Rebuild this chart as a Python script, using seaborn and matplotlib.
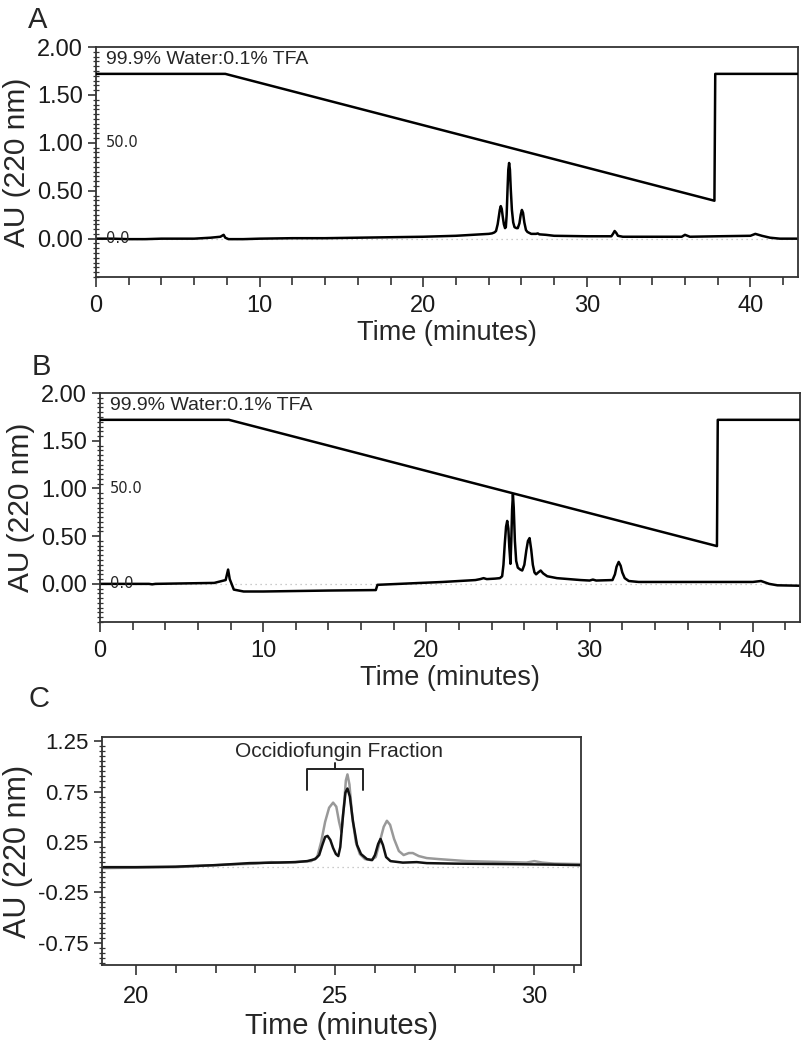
import numpy as np
import matplotlib
matplotlib.use("Agg")
import matplotlib.pyplot as plt
from matplotlib.ticker import MultipleLocator, FormatStrFormatter
import seaborn as sns

sns.set_theme(style="ticks")
plt.rcParams['font.family'] = ['Liberation Sans', 'DejaVu Sans']
plt.rcParams['axes.unicode_minus'] = False

# %%
# data

# panel A chromatogram (time in minutes, AU)
a_time = [0, 1, 2, 3, 4, 5, 6, 7, 7.6, 7.8, 7.9, 8.1, 9, 10, 12, 14, 16, 18, 20, 22, 23,
          24.0, 24.2, 24.35, 24.45, 24.55, 24.62, 24.68, 24.74, 24.8, 24.86, 24.93, 25.0, 25.05,
          25.1, 25.15, 25.2, 25.25, 25.3, 25.35, 25.42, 25.5, 25.58, 25.7, 25.78, 25.88, 25.96,
          26.03, 26.1, 26.18, 26.28, 26.37, 26.6, 26.9, 27.0, 27.1, 27.5, 28, 30, 31.5, 31.6,
          31.7, 31.8, 31.9, 32.2, 34, 35.8, 36.0, 36.3, 38, 40, 40.3, 40.7, 41.2, 41.8, 43]
a_au = [0.0, 0.0, -0.005, -0.005, 0.0, 0.0, 0.0, 0.01, 0.02, 0.04, 0.01, -0.005, -0.005, 0.0,
        0.005, 0.005, 0.01, 0.015, 0.02, 0.03, 0.04,
        0.05, 0.055, 0.065, 0.08, 0.15, 0.23, 0.30, 0.34, 0.31, 0.23, 0.15, 0.11, 0.12,
        0.25, 0.50, 0.72, 0.79, 0.72, 0.52, 0.30, 0.17, 0.12, 0.11, 0.11, 0.16, 0.25,
        0.30, 0.27, 0.17, 0.09, 0.07, 0.05, 0.05, 0.055, 0.045, 0.04, 0.03, 0.025, 0.025, 0.05,
        0.08, 0.06, 0.03, 0.02, 0.02, 0.02, 0.04, 0.02, 0.025, 0.03, 0.05, 0.03, 0.01, 0.0, 0.0]

# panel B chromatogram
b_time = [0, 3, 3.2, 3.4, 7, 7.7, 7.85, 7.95, 8.2, 8.8, 10, 12, 14, 16.9, 17.0, 19, 21, 23,
          23.3, 23.5, 23.7, 24.2, 24.5, 24.64, 24.72, 24.8, 24.88, 24.95, 25.02, 25.08, 25.15,
          25.2, 25.25, 25.3, 25.35, 25.42, 25.5, 25.6, 25.75, 25.87, 26.0, 26.12, 26.22, 26.32,
          26.42, 26.52, 26.62, 26.72, 26.85, 27.0, 27.15, 27.4, 28, 29.45, 30, 30.2, 30.4, 31.4,
          31.55, 31.65, 31.78, 31.9, 32.0, 32.15, 32.4, 33, 35, 38, 40, 40.5, 41, 41.5, 43]
b_au = [0.0, 0.0, -0.005, 0.0, 0.01, 0.04, 0.15, 0.05, -0.06, -0.08, -0.08, -0.075, -0.07,
        -0.065, -0.01, 0.005, 0.02, 0.04,
        0.05, 0.06, 0.05, 0.055, 0.06, 0.08, 0.2, 0.42, 0.6, 0.66, 0.58, 0.38, 0.21,
        0.45, 0.78, 0.94, 0.80, 0.45, 0.24, 0.17, 0.15, 0.14, 0.2, 0.35, 0.45, 0.48,
        0.36, 0.2, 0.12, 0.1, 0.12, 0.14, 0.11, 0.08, 0.06, 0.04, 0.035, 0.045, 0.035, 0.04,
        0.1, 0.18, 0.23, 0.19, 0.12, 0.06, 0.03, 0.02, 0.02, 0.02, 0.02, 0.03, 0.0, -0.015, -0.02]

# solvent gradient (% B), same program for A and B
grad_time = [0, 7.9, 37.8, 37.85, 43]
grad_pct = [86, 86, 19.8, 86, 86]

# panel C overlay (zoom 19-31 min)
c_black_time = [19.15, 20, 21, 22, 22.85, 23.5, 24.0, 24.3, 24.5, 24.6, 24.68, 24.75, 24.81,
                24.88, 24.95, 25.02, 25.08, 25.13, 25.2, 25.26, 25.31, 25.37, 25.45, 25.55, 25.65,
                25.8, 25.93, 26.0, 26.08, 26.14, 26.2, 26.28, 26.39, 26.7, 27.05, 27.3, 28.0,
                29.35, 30.5, 31.17]
c_black_au = [0.0, 0.0, 0.005, 0.02, 0.04, 0.045, 0.05, 0.06, 0.08, 0.12, 0.22, 0.30, 0.31,
              0.27, 0.19, 0.13, 0.11, 0.2, 0.52, 0.74, 0.78, 0.7, 0.45, 0.22, 0.13,
              0.08, 0.07, 0.12, 0.23, 0.28, 0.22, 0.1, 0.06, 0.045, 0.05, 0.04, 0.035,
              0.03, 0.025, 0.02]
c_gray_time = [19.15, 20, 21, 22, 23, 23.4, 23.6, 24.0, 24.4, 24.55, 24.65, 24.75, 24.85, 24.95,
               25.03, 25.1, 25.16, 25.22, 25.27, 25.31, 25.36, 25.43, 25.52, 25.62, 25.75, 25.9,
               26.02, 26.12, 26.22, 26.3, 26.38, 26.48, 26.6, 26.72, 26.85, 26.95, 27.1, 27.3,
               27.6, 28.3, 29.35, 29.8, 30.0, 30.2, 30.5, 31.17]
c_gray_au = [-0.01, -0.005, 0.0, 0.02, 0.035, 0.05, 0.045, 0.05, 0.06, 0.1, 0.25, 0.45, 0.59,
             0.64, 0.6, 0.45, 0.35, 0.6, 0.86, 0.92, 0.82, 0.5, 0.25, 0.13, 0.08, 0.07,
             0.1, 0.25, 0.4, 0.46, 0.42, 0.28, 0.16, 0.12, 0.14, 0.14, 0.11, 0.09,
             0.08, 0.06, 0.05, 0.045, 0.06, 0.045, 0.035, 0.03]

frac_start, frac_end = 24.29, 25.70

# %%

fig = plt.figure(figsize=(8.03, 10.5), dpi=100)
spine_col = '#333333'


def style_axes(ax, tick_fs):
    for s in ax.spines.values():
        s.set_visible(True)
        s.set_color(spine_col)
        s.set_linewidth(1.3)
    ax.tick_params(axis='both', which='major', labelsize=tick_fs, colors=spine_col,
                   labelcolor='#1a1a1a', width=1.2)
    ax.tick_params(axis='x', which='major', direction='out', length=7)
    ax.tick_params(axis='x', which='minor', direction='out', length=6, width=1.2, colors=spine_col)
    ax.tick_params(axis='y', which='major', direction='out', length=6)
    ax.tick_params(axis='y', which='minor', direction='inout', length=5, width=0.9, colors=spine_col)
    ax.axhline(0, color='#bbbbbb', lw=0.9, ls=(0, (1, 3)), zorder=0)


def run_panel(rect, t, au, letter):
    ax = fig.add_axes(rect)
    ax2 = ax.twinx()
    sns.lineplot(x=grad_time, y=grad_pct, ax=ax2, color='black', lw=1.8, sort=False)
    ax2.set_ylim(-20, 100)
    ax2.set_yticks([])
    ax2.set_ylabel('')
    for s in ax2.spines.values():
        s.set_visible(False)
    sns.lineplot(x=t, y=au, ax=ax, color='black', lw=1.8, errorbar=None)
    ax.set_xlim(0, 42.9)
    ax.set_ylim(-0.4, 2.0)
    ax.yaxis.set_major_locator(MultipleLocator(0.5))
    ax.yaxis.set_major_formatter(FormatStrFormatter('%.2f'))
    ax.yaxis.set_minor_locator(MultipleLocator(0.05))
    ax.xaxis.set_major_locator(MultipleLocator(10))
    ax.xaxis.set_minor_locator(MultipleLocator(2))
    style_axes(ax, 17)
    ax.tick_params(axis='x', labelsize=17, pad=6)
    ax.set_xlabel('Time (minutes)', fontsize=19.5, labelpad=2)
    ax.set_ylabel('AU (220 nm)', fontsize=21.5, labelpad=4)
    ax.text(0.6, 1.87, '99.9% Water:0.1% TFA', fontsize=14, va='center', ha='left')
    ax2.text(0.6, 50, '50.0', fontsize=10.5, va='center', ha='left', family='Liberation Sans Narrow')
    ax2.text(0.6, 0, '0.0', fontsize=10.5, va='center', ha='left', family='Liberation Sans Narrow')
    fig.text(rect[0] - 0.085, rect[1] + rect[3] + 0.012, letter, fontsize=21, ha='left', va='bottom')
    return ax


ax_a = run_panel([0.1196, 0.7362, 0.874, 0.219], a_time, a_au, 'A')
ax_b = run_panel([0.1245, 0.4076, 0.872, 0.218], b_time, b_au, 'B')

# panel C
ax_c = fig.add_axes([0.127, 0.081, 0.5965, 0.217])
sns.lineplot(x=c_gray_time, y=c_gray_au, ax=ax_c, color='#999999', lw=1.8, errorbar=None)
sns.lineplot(x=c_black_time, y=c_black_au, ax=ax_c, color='#111111', lw=1.8, errorbar=None)
ax_c.set_xlim(19.15, 31.17)
ax_c.set_ylim(-0.97, 1.29)
ax_c.set_yticks([1.25, 0.75, 0.25, -0.25, -0.75])
ax_c.yaxis.set_major_formatter(FormatStrFormatter('%.2f'))
ax_c.yaxis.set_minor_locator(MultipleLocator(0.05))
ax_c.xaxis.set_major_locator(MultipleLocator(5))
ax_c.xaxis.set_minor_locator(MultipleLocator(1))
style_axes(ax_c, 16)
ax_c.tick_params(axis='x', labelsize=17, pad=8)
ax_c.set_xlabel('Time (minutes)', fontsize=21, labelpad=3)
ax_c.set_ylabel('AU (220 nm)', fontsize=22, labelpad=4)

# fraction bracket
mid = (frac_start + frac_end) / 2
ax_c.plot([frac_start, frac_start, frac_end, frac_end], [0.77, 0.97, 0.97, 0.77], color='#222222', lw=1.4)
ax_c.plot([mid, mid], [0.97, 1.03], color='#222222', lw=1.4)
ax_c.text(mid + 0.1, 1.15, 'Occidiofungin Fraction', fontsize=15, ha='center', va='center')
fig.text(0.035, 0.321, 'C', fontsize=21, ha='left', va='bottom')

plt.savefig('out.png', dpi=100)
